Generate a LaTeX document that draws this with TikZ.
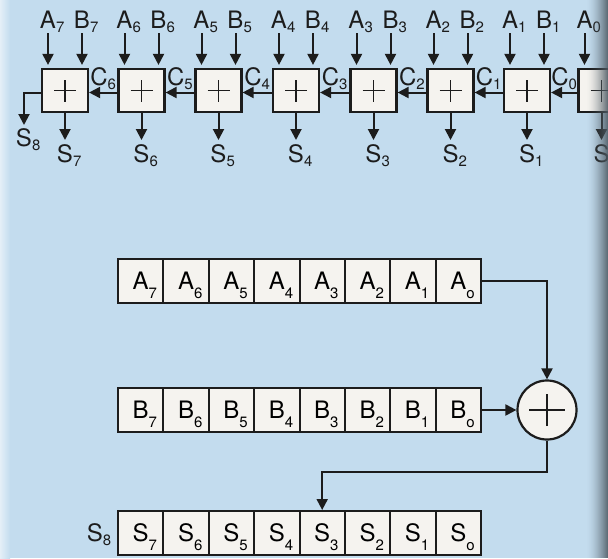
\documentclass[tikz,border=0pt]{standalone}
\usepackage{fontspec}
\setmainfont{TeX Gyre Heros}
\usetikzlibrary{arrows.meta}
\definecolor{bg}{HTML}{C3DCEE}
\definecolor{cellfill}{HTML}{F5F3EF}
\definecolor{ink}{HTML}{1C1C1C}
\definecolor{stripcol}{HTML}{4E5B64}
\newcommand\bigf{\fontsize{24}{26}\selectfont}
\newcommand\smallf{\fontsize{15}{16}\selectfont}
\newcommand\tsub[2]{#1\rlap{\smash{\raisebox{-4pt}{\smallf #2}}}}
\newcommand\bsub[2]{#1\rlap{\smash{\raisebox{-9pt}{\smallf #2}}}}
\newcommand\csub[2]{#1\raisebox{-4pt}{\smallf #2}}
\begin{document}
\begin{tikzpicture}[x=1pt,y=-1pt,
  adder/.style={draw=ink, line width=2.2pt, fill=cellfill, minimum width=46pt, minimum height=43pt, inner sep=0pt},
  cell/.style={draw=ink, line width=2pt, fill=cellfill, minimum width=45.375pt, minimum height=44pt, inner sep=0pt, font=\bigf},
  lbl/.style={font=\bigf, inner sep=0pt, anchor=base, text=ink},
  plusline/.style={draw=ink, line width=1.7pt},
  arr/.style={draw=ink, line width=2pt, -{Triangle[length=11pt,width=11pt]}},
  conn/.style={draw=ink, line width=2pt}]
\useasboundingbox (0,0) rectangle (608,558);
\clip (0,0) rectangle (608,558);
\fill[bg] (0,0) rectangle (608,558);
\shade[left color=white!55!bg, right color=bg] (0,0) rectangle (10,558);
% ---------- ripple-carry adder ----------
\foreach \i/\cx in {7/65,6/141.5,5/218.5,4/296,3/373.5,2/450.5,1/527,0/601.5} {
  \node[adder] (add\i) at (\cx,90.5) {};
  \draw[plusline] ([xshift=-11pt]add\i.center) -- ([xshift=11pt]add\i.center);
  \draw[plusline] ([yshift=-11pt]add\i.center) -- ([yshift=11pt]add\i.center);
  \node[lbl] (la\i) at (\cx-17,28) {\tsub{A}{\i}};
  \node[lbl] (lb\i) at (\cx+17,28) {\tsub{B}{\i}};
  \draw[arr] ([yshift=-5pt]la\i.base) -- ([xshift=-17pt,yshift=3pt]add\i.north);
  \draw[arr] ([yshift=-5pt]lb\i.base) -- ([xshift=17pt,yshift=3pt]add\i.north);
  \node[lbl] (ls\i) at (\cx,162) {\tsub{S}{\i}};
  \draw[arr] (add\i.south) -- ([yshift=22pt]ls\i.base);
}
\foreach \i/\j in {6/7,5/6,4/5,3/4,2/3,1/2,0/1} {
  \draw[arr] ([yshift=-2pt]add\i.west) -- ([yshift=-2pt]add\j.east);
  \path (add\j.east) -- (add\i.west) coordinate[midway] (g\i);
  \node[lbl] (lc\i) at ([yshift=5pt]g\i) {\csub{C}{\i}};
}
\node[lbl] (ls8) at (24,146) {\tsub{S}{8}};
\draw[arr] ([yshift=-2pt]add7.west) -| ([yshift=21pt]ls8.base);
% ---------- registers ----------
\foreach \i/\s [count=\k from 0] in {7/7,6/6,5/5,4/4,3/3,2/2,1/1,0/o} {
  \node[cell] (ra\i) at (118+45.375*\k+22.6875,281) {\bsub{A}{\s}};
  \node[cell] (rb\i) at (118+45.375*\k+22.6875,410) {\bsub{B}{\s}};
  \node[cell] (rs\i) at (118+45.375*\k+22.6875,533) {\bsub{S}{\s}};
}
\node[lbl] (rs8) at (99,541) {\csub{S}{8}};
\node[circle, draw=ink, line width=2.2pt, fill=cellfill, minimum size=59pt, inner sep=0pt] (sum) at (547,410) {};
\draw[plusline] ([xshift=-18pt]sum.center) -- ([xshift=18pt]sum.center);
\draw[plusline] ([yshift=-16pt]sum.center) -- ([yshift=16pt]sum.center);
\draw[arr] (ra0.east) -| (sum.north);
\draw[arr] (rb0.east) -- (sum.west);
\draw[arr] (sum.south) -- ++(0,31) -| (rs3.north);
% ---------- page edge shadow ----------
\foreach \k in {0,...,21} {
  \pgfmathsetmacro\op{0.85*(\k/21)^1.6}
  \fill[stripcol, fill opacity=\op] (586+\k,0) rectangle ++(1.05,558);
}
\end{tikzpicture}
\end{document}
